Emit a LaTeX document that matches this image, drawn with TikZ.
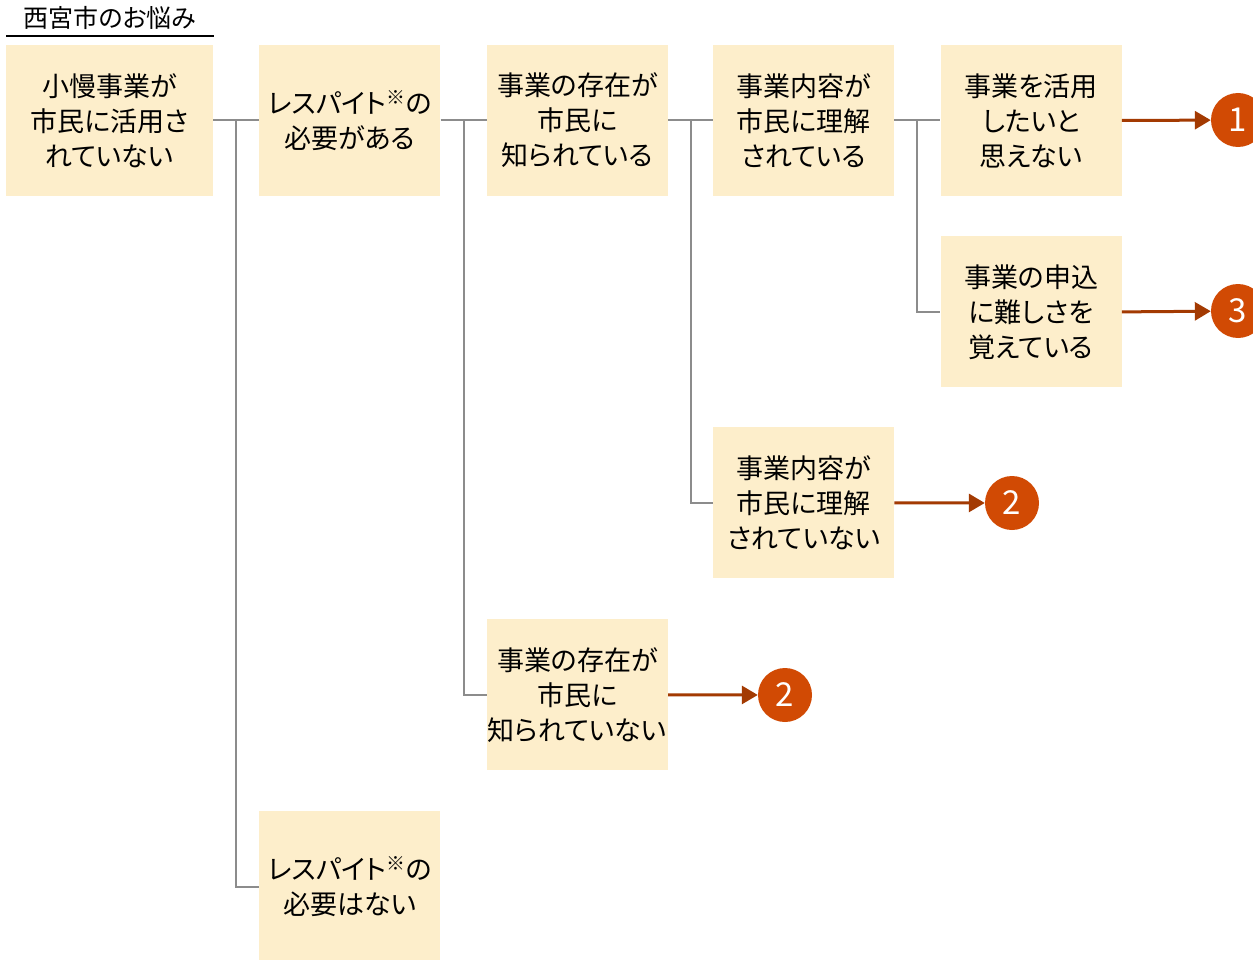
\documentclass[tikz,border=0pt]{standalone}
\usepackage{fontspec}
\setmainfont[RawFeature=+palt]{Noto Sans CJK JP}
\usepackage{tikz}
\usetikzlibrary{arrows,arrows.meta,calc,positioning}
\definecolor{crema}{HTML}{FDEECB}
\definecolor{gris}{HTML}{8C8C8C}
\definecolor{naranja}{HTML}{D14A04}
\definecolor{marron}{HTML}{A33A02}
\tikzstyle{caja}=[rectangle,fill=crema,align=center,text width=181,minimum height=151,inner sep=0,font=\fontsize{27}{35}\selectfont]
\tikzstyle{linea}=[draw=gris,line width=2]
\tikzstyle{flecha}=[-{Triangle[length=16pt,width=18pt]},draw=marron,line width=3]
\tikzstyle{num}=[circle,fill=naranja,text=white,minimum size=54,inner sep=0,font=\fontsize{33}{33}\selectfont]

\begin{document}
\begin{tikzpicture}[x=1pt,y=-1pt]
	\useasboundingbox (0,0) rectangle (1253,960);
	% titulo
	\node[font=\fontsize{25}{25}\selectfont](titulo) at (110,18){西宮市のお悩み};
	\draw[line width=2] (6,36) -- (214,36);
	% fila superior
	\node[caja,text width=207](a) at (109.5,120.5){小慢事業が\\市民に活用さ\\れていない};
	\node[caja](b)[right =46pt of a]{レスパイト\textsuperscript{※}の\\必要がある};
	\node[caja](c)[right =46pt of b]{事業の存在が\\市民に\\知られている};
	\node[caja](d)[right =45pt of c]{事業内容が\\市民に理解\\されている};
	\node[caja](e)[right =46pt of d]{事業を活用\\したいと\\思えない};
	% ramas
	\node[caja](f)[below =40pt of e]{事業の申込\\に難しさを\\覚えている};
	\node[caja](g)[below =231pt of d]{事業内容が\\市民に理解\\されていない};
	\node[caja](h)[below =423pt of c]{事業の存在が\\市民に\\知られていない};
	\node[caja](i)[below =615pt of b]{レスパイト\textsuperscript{※}の\\必要はない};
	% conectores
	\draw[linea] (a.east) -- (b.west);
	\draw[linea] ($(a.east)!0.5!(b.west)$) |- (i.west);
	\draw[linea] (b.east) -- (c.west);
	\draw[linea] ($(b.east)!0.5!(c.west)$) |- (h.west);
	\draw[linea] (c.east) -- (d.west);
	\draw[linea] ($(c.east)!0.5!(d.west)$) |- (g.west);
	\draw[linea] (d.east) -- (e.west);
	\draw[linea] ($(d.east)!0.5!(e.west)$) |- (f.west);
	% numeros
	\node[num](n1) at (1238,120){1};
	\node[num](n3) at (1238,311){3};
	\node[num](n2a) at (1012,503){2};
	\node[num](n2b) at (785,695){2};
	\draw[flecha] (e.east) -- (n1);
	\draw[flecha] (f.east) -- (n3);
	\draw[flecha] (g.east) -- (n2a);
	\draw[flecha] (h.east) -- (n2b);
\end{tikzpicture}
\end{document}
